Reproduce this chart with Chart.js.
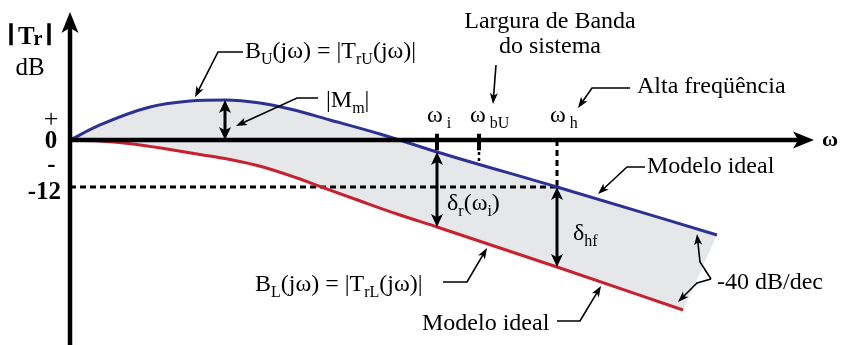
<!DOCTYPE html>
<html lang="pt">
<head>
<meta charset="utf-8">
<title>Limites de |Tr| em dB</title>
<script src="https://cdn.jsdelivr.net/npm/chart.js@4.4.1/dist/chart.umd.min.js"></script>
<style>
  html, body { margin: 0; padding: 0; background: #fff; }
  canvas { display: block; }
</style>
</head>
<body>
<canvas id="boundsChart" width="849" height="345"></canvas>
<script>
// frequência em unidades arbitrárias, magnitude em dB
const upperW  = [0, 3, 8, 12, 15.5, 19, 22, 26, 31, 36.7, 48.7, 64.7];
const upperDb = [0, 3.83, 8.42, 9.95, 10.2, 9.45, 7.9, 5.11, 1.53, -3.06, -12, -24.25];
const lowerW  = [0, 3, 6.3, 10, 13, 16, 19.3, 22.7, 25.3, 29.3, 32.7, 36.7, 48.7, 61.3];
const lowerDb = [0, -0.26, -1.02, -2.43, -3.7, -4.98, -6.89, -9.7, -12.13, -15.83, -18.89, -22.21, -32.42, -43.4];

// frequências marcadas no eixo
const wI = 36.7, wBU = 40.9, wH = 48.7;
const levelDb = -12;
const upperAtBU = -6.19;
// pico de B_U (|Mm|) e valores das curvas em wI e wH
const peakW = 15.5, peakDb = 10.2;
const upperAtI = -3.06, lowerAtI = -22.21;
const upperAtH = -12, lowerAtH = -32.42;

const pts = (xs, ys) => xs.map((v, i) => ({ x: v, y: ys[i] }));
const upperPts = pts(upperW, upperDb);
const lowerPts = pts(lowerW, lowerDb);
const bandPts = upperPts.concat(lowerPts.slice().reverse());

const BLUE = '#2e3192';
const RED = '#c8202e';
const SERIF = '"Liberation Serif", "Times New Roman", serif';

function arrowHead(ctx, fx, fy, tx, ty, len, half) {
    const a = Math.atan2(ty - fy, tx - fx);
    const c = Math.cos(a), s = Math.sin(a);
    const bx = tx - c * len, by = ty - s * len;
    ctx.beginPath();
    ctx.moveTo(tx, ty);
    ctx.lineTo(bx - s * half, by + c * half);
    ctx.lineTo(tx - c * len * 0.75, ty - s * len * 0.75);
    ctx.lineTo(bx + s * half, by - c * half);
    ctx.closePath();
    ctx.fill();
}

// polyline ending in an arrow at its last point
function pointer(ctx, p, width, len, half) {
    const n = p.length;
    const a = Math.atan2(p[n - 1][1] - p[n - 2][1], p[n - 1][0] - p[n - 2][0]);
    ctx.lineWidth = width;
    ctx.beginPath();
    ctx.moveTo(p[0][0], p[0][1]);
    for (let i = 1; i < n - 1; i++) ctx.lineTo(p[i][0], p[i][1]);
    ctx.lineTo(p[n - 1][0] - Math.cos(a) * len * 0.7, p[n - 1][1] - Math.sin(a) * len * 0.7);
    ctx.stroke();
    arrowHead(ctx, p[n - 2][0], p[n - 2][1], p[n - 1][0], p[n - 1][1], len, half);
}

function doubleArrow(ctx, px, y1, y2) {
    ctx.lineWidth = 3;
    ctx.beginPath();
    ctx.moveTo(px, y1 + 8);
    ctx.lineTo(px, y2 - 8);
    ctx.stroke();
    arrowHead(ctx, px, y2, px, y1, 13, 6);
    arrowHead(ctx, px, y1, px, y2, 13, 6);
}

// texto com subscritos: partes [texto, subscrito?]
function rich(ctx, parts, x, y, size, align) {
    const subSize = Math.round(size * 0.66);
    const font = sub => (sub ? subSize : size) + 'px ' + SERIF;
    let total = 0;
    parts.forEach(([t, sub]) => { ctx.font = font(sub); total += ctx.measureText(t).width; });
    let cx = align === 'center' ? x - total / 2 : x;
    ctx.textAlign = 'left';
    ctx.textBaseline = 'alphabetic';
    parts.forEach(([t, sub]) => {
        ctx.font = font(sub);
        ctx.fillText(t, cx, sub ? y + size * 0.24 : y);
        cx += ctx.measureText(t).width;
    });
}

const labels = [
    { parts: [['B'], ['U', 1], ['(jω) = |T'], ['rU', 1], ['(jω)|']], w: 17.5, db: 20.93 },
    { parts: [['|M'], ['m', 1], ['|']], w: 25.6, db: 8.42 },
    { parts: [['ω'], [' i', 1]], w: 35.7, db: 4.6 },
    { parts: [['ω'], [' bU', 1]], w: 40.0, db: 4.6 },
    { parts: [['ω'], [' h', 1]], w: 48.0, db: 4.6 },
    { parts: [['Largura de Banda']], w: 48.0, db: 28.59, align: 'center' },
    { parts: [['do sistema']], w: 48.0, db: 22.21, align: 'center' },
    { parts: [['Alta freqüência']], w: 56.7, db: 12.0 },
    { parts: [['Modelo ideal']], w: 57.7, db: -8.42 },
    { parts: [['δ'], ['r', 1], ['(ω'], ['i', 1], [')']], w: 37.7, db: -17.87 },
    { parts: [['δ'], ['hf', 1]], w: 50.3, db: -25.53 },
    { parts: [['B'], ['L', 1], ['(jω) = |T'], ['rL', 1], ['(jω)|']], w: 18.5, db: -38.55 },
    { parts: [['Modelo ideal']], w: 35.2, db: -48.51 },
    { parts: [['-40 dB/dec']], w: 64.7, db: -38.04 }
];

const pointers = [
    [[17.3, 22.47], [14.8, 22.47], [12.5, 10.9]],
    [[24.8, 10.72], [22.7, 10.72], [16.6, 3.57]],
    [[42.6, 19.15], [42.3, 9.19]],
    [[56.0, 13.28], [52.2, 13.28], [50.8, 8.17]],
    [[57.5, -6.89], [55.7, -6.89], [52.8, -13.79]],
    [[37.3, -36.25], [39.7, -36.25], [41.7, -27.57]],
    [[48.7, -46.21], [51.0, -46.21], [53.1, -37.27]],
    [[64.1, -35.49], [63.0, -31.15], [62.7, -24.0]],
    [[64.1, -35.49], [62.7, -36.51], [60.8, -41.36]]
];

const annotations = {
    id: 'annotations',
    afterDatasetsDraw(chart) {
        const { ctx, scales: { x, y } } = chart;
        const X = v => x.getPixelForValue(v);
        const Y = v => y.getPixelForValue(v);
        ctx.save();
        ctx.fillStyle = '#000';
        ctx.strokeStyle = '#000';
        ctx.lineCap = 'butt';

        // eixos
        ctx.lineWidth = 4.5;
        ctx.beginPath();
        ctx.moveTo(X(0), Y(y.min));
        ctx.lineTo(X(0), Y(31));
        ctx.moveTo(X(0), Y(0));
        ctx.lineTo(X(73), Y(0));
        ctx.stroke();
        arrowHead(ctx, X(0), Y(0), X(0), Y(32.7), 21, 8.5);
        arrowHead(ctx, X(0), Y(0), X(74.4), Y(0), 21, 8.5);

        // marcas de wI e wBU
        ctx.lineWidth = 4;
        ctx.beginPath();
        [wI, wBU].forEach(w => { ctx.moveTo(X(w), Y(1.6)); ctx.lineTo(X(w), Y(-2.6)); });
        ctx.stroke();

        doubleArrow(ctx, X(peakW), Y(peakDb), Y(0));
        doubleArrow(ctx, X(wI), Y(upperAtI), Y(lowerAtI));
        doubleArrow(ctx, X(wH), Y(upperAtH), Y(lowerAtH));

        pointers.forEach(p => pointer(ctx, p.map(([w, db]) => [X(w), Y(db)]), 1.6, 11, 4));

        labels.forEach(l => rich(ctx, l.parts, X(l.w), Y(l.db), 24, l.align));

        // título do eixo vertical
        ctx.lineWidth = 3.5;
        ctx.beginPath();
        ctx.moveTo(X(-5.9), Y(29.8)); ctx.lineTo(X(-5.9), Y(24.2));
        ctx.moveTo(X(-2.1), Y(29.8)); ctx.lineTo(X(-2.1), Y(24.2));
        ctx.stroke();
        ctx.textBaseline = 'alphabetic';
        ctx.textAlign = 'left';
        ctx.font = 'bold 25px ' + SERIF;
        ctx.fillText('T', X(-5.2), Y(24.6));
        ctx.font = 'bold 20px ' + SERIF;
        ctx.fillText('r', X(-3.65), Y(24.3));
        ctx.font = '25px ' + SERIF;
        ctx.textAlign = 'center';
        ctx.fillText('dB', X(-4.0), Y(16.6));

        // níveis do eixo vertical
        ctx.textBaseline = 'middle';
        ctx.font = '26px ' + SERIF;
        ctx.fillText('+', X(-1.9), Y(5.1));
        ctx.font = 'bold 25px ' + SERIF;
        ctx.fillText('0', X(-1.9), Y(-0.4));
        ctx.fillText('-', X(-1.85), Y(-6.5));
        ctx.textAlign = 'right';
        ctx.fillText(String(levelDb), X(-0.9), Y(-13.4));
        ctx.textAlign = 'left';
        ctx.font = 'bold 22px ' + SERIF;
        ctx.fillText('ω', X(75.2), Y(-0.2));
        ctx.restore();
    }
};

const line = (data, color, width, order, extra) => Object.assign({
    data, showLine: true, pointRadius: 0, borderColor: color, borderWidth: width, fill: false, order
}, extra || {});

new Chart(document.getElementById('boundsChart'), {
    type: 'scatter',
    data: {
        datasets: [
            line(bandPts, 'rgba(0,0,0,0)', 0, 9, { fill: 'shape', backgroundColor: '#e6e7e8' }),
            line([{ x: 0, y: levelDb }, { x: wH, y: levelDb }], '#000', 3, 5, { borderDash: [6, 4] }),
            line([{ x: wH, y: 0 }, { x: wH, y: levelDb }], '#000', 3, 5, { borderDash: [6, 4] }),
            line([{ x: wBU, y: 0 }, { x: wBU, y: upperAtBU }], '#000', 2.5, 5, { borderDash: [3, 3] }),
            line(upperPts, BLUE, 3, 1, { cubicInterpolationMode: 'monotone' }),
            line(lowerPts, RED, 3, 1, { cubicInterpolationMode: 'monotone' })
        ]
    },
    options: {
        responsive: false,
        animation: false,
        events: [],
        layout: { padding: 0 },
        plugins: { legend: { display: false }, tooltip: { enabled: false } },
        scales: {
            x: { type: 'linear', display: false, min: -7, max: 77.9 },
            y: { type: 'linear', display: false, min: -52.34, max: 35.74 }
        }
    },
    plugins: [annotations]
});
</script>
</body>
</html>
